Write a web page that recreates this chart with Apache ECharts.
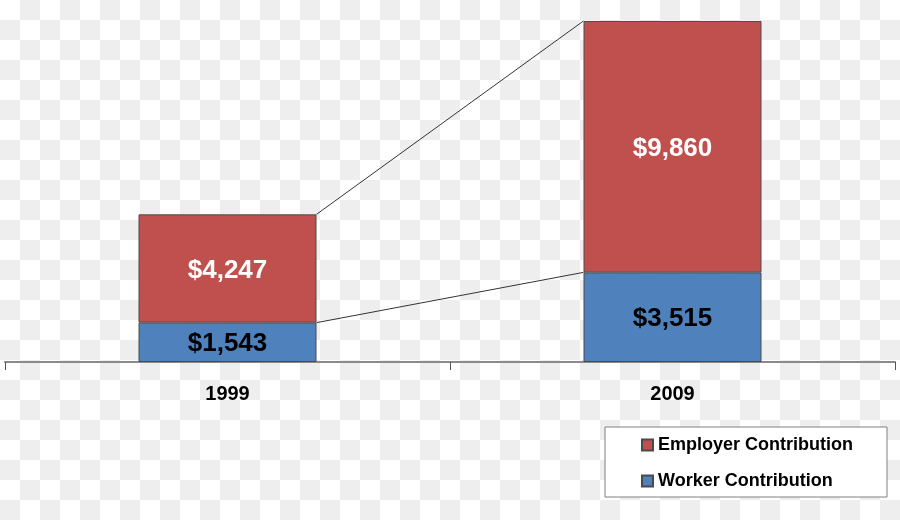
<!DOCTYPE html>
<html>
<head>
<meta charset="utf-8">
<script src="https://cdn.jsdelivr.net/npm/echarts@6/dist/echarts.min.js"></script>
<style>
html,body{margin:0;padding:0;}
#chart{width:900px;height:520px;background:repeating-conic-gradient(#eeeeee 0 25%, #ffffff 0 50%) 0 0/40px 40px;}
</style>
</head>
<body>
<div id="chart"></div>
<script>
const categories = ['1999', '2009'];
const workerValues = [1543, 3515];
const employerValues = [4247, 9860];
const seriesNames = ['Employer Contribution', 'Worker Contribution'];

const fmt = v => '$' + Number(v).toLocaleString('en-US');
const workerTops = workerValues.slice();
const totalTops = workerValues.map((w, i) => w + employerValues[i]);
const connectorData = [[0, workerTops[0], workerTops[1]], [0, totalTops[0], totalTops[1]]];

const chart = echarts.init(document.getElementById('chart'), null, {renderer: 'canvas'});
const FONT = 'Liberation Sans';
chart.setOption({
  animation: false,
  backgroundColor: 'transparent',
  grid: {left: 5, right: 5, top: 5, bottom: 158},
  legend: {
    orient: 'vertical',
    left: 605, top: 427,
    data: seriesNames,
    backgroundColor: '#ffffff',
    borderColor: '#808080', borderWidth: 1,
    padding: [9, 34, 7, 36],
    itemWidth: 11, itemHeight: 11, itemGap: 18,
    icon: 'rect',
    textStyle: {fontFamily: FONT, fontWeight: 'bold', fontSize: 18, color: '#000', lineHeight: 18}
  },
  xAxis: {
    type: 'category', data: categories,
    axisLine: {lineStyle: {color: '#8a8a8a', width: 2}},
    axisTick: {show: true, length: 8, lineStyle: {color: '#555', width: 1}},
    axisLabel: {fontFamily: FONT, fontWeight: 'bold', fontSize: 20, color: '#000', margin: 22}
  },
  yAxis: {type: 'value', min: 0, max: 14000, show: false, splitLine: {show: false}},
  series: [
    {
      name: 'Worker Contribution', type: 'bar', stack: 'total', data: workerValues,
      barWidth: '40%',
      itemStyle: {color: '#4F81BD', borderColor: '#4a4a4a', borderWidth: 1},
      label: {show: true, position: 'inside', offset: [0, 2], formatter: p => fmt(p.value),
        fontFamily: FONT, fontWeight: 'bold', fontSize: 26, color: '#000'}
    },
    {
      name: 'Employer Contribution', type: 'bar', stack: 'total', data: employerValues,
      barWidth: '40%',
      itemStyle: {color: '#C0504D', borderColor: '#4a4a4a', borderWidth: 1},
      label: {show: true, position: 'inside', offset: [0, 2], formatter: p => fmt(p.value),
        fontFamily: FONT, fontWeight: 'bold', fontSize: 26, color: '#fff'}
    },
    {
      name: 'connectors', type: 'custom', data: connectorData,
      encode: {x: 0, y: 1},
      silent: true, z: 5,
      renderItem: function (params, api) {
        const hw = api.size([1, 0])[0] * 0.2;
        const p0 = api.coord([0, api.value(1)]);
        const p1 = api.coord([1, api.value(2)]);
        return {type: 'line',
          shape: {x1: p0[0] + hw, y1: p0[1], x2: p1[0] - hw, y2: p1[1]},
          style: {stroke: '#333', lineWidth: 1}};
      }
    }
  ]
});
</script>
</body>
</html>
